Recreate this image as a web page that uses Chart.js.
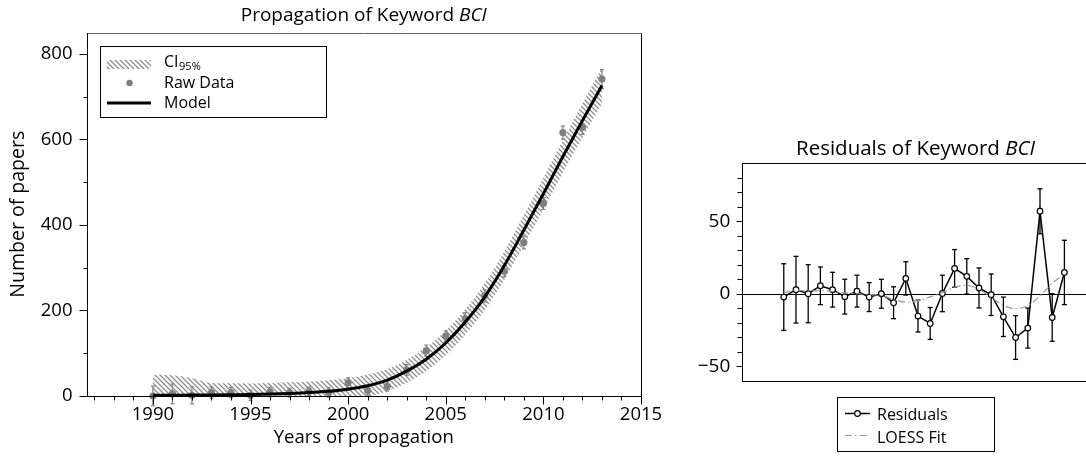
<!DOCTYPE html>
<html>
<head>
<meta charset="utf-8">
<title>Propagation of Keyword BCI</title>
<script src="https://cdn.jsdelivr.net/npm/chart.js@4.4.1/dist/chart.umd.min.js"></script>
<style>
  html, body { margin: 0; padding: 0; background: #fff; overflow: hidden; width: 1086px; height: 457px; }
  #leftWrap  { position: absolute; left: 0;     top: 0; width: 680px; height: 457px; }
  #rightWrap { position: absolute; left: 680px; top: 0; width: 420px; height: 457px; }
  canvas { display: block; }
</style>
</head>
<body>
<div id="leftWrap"><canvas id="growth" width="680" height="457"></canvas></div>
<div id="rightWrap"><canvas id="resid" width="420" height="457"></canvas></div>
<script>
// ---- data ----
const years = [1990, 1991, 1992, 1993, 1994, 1995, 1996, 1997, 1998, 1999, 2000, 2001,
               2002, 2003, 2004, 2005, 2006, 2007, 2008, 2009, 2010, 2011, 2012, 2013];
const rawCounts = [0, 5, 1.5, 8, 8, 1.5, 9.5, 8, 11, 8.5, 31, 13,
                   22.6, 61, 106, 140, 181, 234, 292, 359, 450, 616, 628, 741];
const stdErrors = [23, 23, 20, 13, 12, 12, 11, 10, 10, 11, 11.5, 11,
                   11, 12.6, 13, 12.2, 13.8, 14.3, 13.6, 15.1, 13.8, 15.5, 16.4, 22.2];
const modelCounts = [1.5, 1.8, 2.1, 2.5, 3, 3.5, 4.5, 6, 8, 11, 16, 24,
                     37, 58, 86, 124, 173, 232, 305, 388, 473, 560, 644, 726];
const ciUpper = [49.5, 48.8, 42.1, 30.5, 30, 29.5, 30.5, 32, 34, 37, 42, 50,
                 63, 85, 114, 153, 203, 263, 338, 423, 510, 598, 684, 768];
const ciLower = [-46.5, -45.2, -37.9, -25.5, -24, -22.5, -21.5, -20, -18, -15, -10, -2,
                 11, 31, 58, 95, 143, 201, 272, 353, 436, 522, 604, 684];
const residuals = [-2.3, 2.8, 0, 5.5, 2.8, -2, 1.8, -2.3, 0, -6.2, 10.6, -15.4,
                   -20.5, 0.2, 17.5, 12, 4, -0.7, -15.9, -30.2, -23.7, 56.9, -16.4, 14.7];
const loessFit = [0.5, 2.5, 1.8, 2.2, 1.5, 0.6, 0, -0.5, -1.2, -4, -5.8, -4.8,
                  -2.2, 0.7, 4.5, 5.8, 3, -2.5, -8, -10.2, -8.3, -1.5, 7.2, 13.5];

const yearTicks = [1990, 1995, 2000, 2005, 2010, 2015];
const countTicks = [0, 200, 400, 600, 800];
const residTicks = [-50, 0, 50];
const yearRange = [1986.6, 2015];

// ---- styling helpers ----
const FONT = "'Open Sans', 'Noto Sans', sans-serif";
const GREY = '#808080';

function makeHatch(ctx) {
  const s = 5;
  const tile = document.createElement('canvas');
  tile.width = s; tile.height = s;
  const g = tile.getContext('2d');
  g.strokeStyle = '#8e8e8e';
  g.lineWidth = 1.3;
  g.beginPath();
  g.moveTo(-s, -s); g.lineTo(2 * s, 2 * s);
  g.moveTo(-s, 0);  g.lineTo(s, 2 * s);
  g.moveTo(0, -s);  g.lineTo(2 * s, s);
  g.stroke();
  return ctx.createPattern(tile, 'repeat');
}

function seg(ctx, x1, y1, x2, y2) {
  ctx.beginPath(); ctx.moveTo(x1, y1); ctx.lineTo(x2, y2); ctx.stroke();
}
const snap = v => Math.round(v) + 0.5;

// text with an italic tail, centred on cx
function mixedTitle(ctx, plain, italic, cx, baseY, size) {
  ctx.save();
  ctx.fillStyle = '#000';
  ctx.textBaseline = 'alphabetic';
  ctx.textAlign = 'left';
  ctx.font = `${size}px ${FONT}`;
  const w1 = ctx.measureText(plain).width;
  ctx.font = `italic ${size}px ${FONT}`;
  const w2 = ctx.measureText(italic).width;
  const x0 = cx - (w1 + w2) / 2;
  ctx.font = `${size}px ${FONT}`;
  ctx.fillText(plain, x0, baseY);
  ctx.font = `italic ${size}px ${FONT}`;
  ctx.fillText(italic, x0 + w1, baseY);
  ctx.restore();
}

// vertical error bars drawn under a dataset that carries errorValues
const errorBarPlugin = {
  id: 'errorBars',
  beforeDatasetDraw(chart, args) {
    const ds = chart.data.datasets[args.index];
    if (!ds.errorValues) return;
    const ctx = chart.ctx, ys = chart.scales.y;
    ctx.save();
    ctx.strokeStyle = ds.errorColor;
    ctx.lineWidth = ds.errorWidth;
    args.meta.data.forEach((pt, i) => {
      const v = ds.data[i].y, e = ds.errorValues[i];
      const top = ys.getPixelForValue(v + e), bot = ys.getPixelForValue(v - e);
      const x = pt.x, c = ds.errorCap;
      seg(ctx, x, top, x, bot);
      seg(ctx, x - c, top, x + c, top);
      seg(ctx, x - c, bot, x + c, bot);
    });
    ctx.restore();
  }
};

// nudge layout padding until the plot area sits where wanted
function placeArea(chart, target) {
  for (let k = 0; k < 3; k++) {
    const a = chart.chartArea, p = chart.options.layout.padding;
    p.left += target.left - a.left;
    p.top += target.top - a.top;
    p.right += a.right - target.right;
    p.bottom += a.bottom - target.bottom;
    chart.update('none');
  }
}

function buildCharts() {
  Chart.defaults.font.family = FONT;
  Chart.defaults.color = '#000';

  // ---------- growth curve ----------
  const gCanvas = document.getElementById('growth');
  const gctx = gCanvas.getContext('2d');
  const hatch = makeHatch(gctx);
  const pts = arr => years.map((yr, i) => ({ x: yr, y: arr[i] }));

  const growthDeco = {
    id: 'growthDeco',
    afterDraw(chart) {
      const ctx = chart.ctx, a = chart.chartArea;
      const xs = chart.scales.x, ys = chart.scales.y;
      const L = snap(a.left), R = snap(a.right), T = snap(a.top), B = snap(a.bottom);
      ctx.save();
      ctx.lineWidth = 1;
      ctx.strokeStyle = '#666';
      seg(ctx, L, T, R, T);
      ctx.strokeStyle = '#000';
      seg(ctx, R, T, R, B);
      seg(ctx, L, T - 0.5, L, B + 0.5);
      seg(ctx, L - 0.5, B, R + 0.5, B);
      // year ticks
      for (let yr = 1987; yr <= 2015; yr++) {
        const px = snap(xs.getPixelForValue(yr));
        seg(ctx, px, B, px, B + (yr % 5 === 0 ? 8 : 4));
      }
      // count ticks
      for (let v = 0; v <= 800; v += 100) {
        const py = snap(ys.getPixelForValue(v));
        seg(ctx, L, py, L - (v % 200 === 0 ? 8 : 4), py);
      }

      // legend
      ctx.fillStyle = '#fff';
      ctx.fillRect(100, 46, 227, 71);
      ctx.strokeRect(100.5, 46.5, 226, 71);
      ctx.fillStyle = hatch;
      ctx.fillRect(107, 60, 44, 9);
      ctx.fillStyle = GREY;
      ctx.beginPath(); ctx.arc(129.5, 83, 3.2, 0, Math.PI * 2); ctx.fill();
      ctx.strokeStyle = '#000'; ctx.lineWidth = 3;
      seg(ctx, 107, 103, 151, 103);
      ctx.fillStyle = '#000';
      ctx.textBaseline = 'alphabetic';
      ctx.textAlign = 'left';
      ctx.font = `16px ${FONT}`;
      ctx.fillText('CI', 164, 67);
      const ciW = ctx.measureText('CI').width;
      ctx.font = `11px ${FONT}`;
      ctx.fillText('95%', 164 + ciW + 0.5, 69.5);
      ctx.font = `16px ${FONT}`;
      ctx.fillText('Raw Data', 164, 88);
      ctx.fillText('Model', 164, 108);

      // titles
      const cx = (a.left + a.right) / 2;
      mixedTitle(ctx, 'Propagation of Keyword ', 'BCI', cx, 21, 19);
      ctx.font = `18.5px ${FONT}`;
      ctx.textAlign = 'center';
      ctx.fillText('Years of propagation', cx, 443);
      ctx.font = `19.5px ${FONT}`;
      ctx.translate(24, (a.top + a.bottom) / 2);
      ctx.rotate(-Math.PI / 2);
      ctx.fillText('Number of papers', 0, 0);
      ctx.restore();
    }
  };

  const growth = new Chart(gCanvas, {
    type: 'line',
    data: {
      datasets: [
        { label: 'CI lower', data: pts(ciLower), borderWidth: 0, pointRadius: 0,
          cubicInterpolationMode: 'monotone', fill: false, order: 4 },
        { label: 'CI95%', data: pts(ciUpper), borderWidth: 0, pointRadius: 0,
          cubicInterpolationMode: 'monotone', fill: 0, backgroundColor: hatch, order: 3 },
        { label: 'Raw Data', data: pts(rawCounts), showLine: false, pointRadius: 3.6,
          pointBackgroundColor: GREY, pointBorderWidth: 0, clip: false,
          errorValues: stdErrors, errorColor: GREY, errorWidth: 1.2, errorCap: 2, order: 2 },
        { label: 'Model', data: pts(modelCounts), borderColor: '#000', borderWidth: 3,
          pointRadius: 0, cubicInterpolationMode: 'monotone', fill: false, order: 1 }
      ]
    },
    options: {
      responsive: false,
      devicePixelRatio: 1,
      animation: false,
      layout: { padding: { top: 32, right: 39, left: 0, bottom: 0 } },
      plugins: { legend: { display: false }, tooltip: { enabled: false } },
      scales: {
        x: {
          type: 'linear', min: yearRange[0], max: yearRange[1],
          grid: { display: false, drawTicks: false }, border: { display: false },
          afterBuildTicks: s => { s.ticks = yearTicks.map(v => ({ value: v })); },
          afterFit: s => { s.height = 61; },
          ticks: { font: { size: 18.5 }, color: '#000', padding: 8, autoSkip: false,
                   maxRotation: 0, callback: v => String(v) }
        },
        y: {
          type: 'linear', min: 0, max: 850,
          grid: { display: false, drawTicks: false }, border: { display: false },
          afterBuildTicks: s => { s.ticks = countTicks.map(v => ({ value: v })); },
          afterFit: s => { s.width = 86.5; },
          ticks: { font: { size: 18.5 }, color: '#000', padding: 14, callback: v => String(v) }
        }
      }
    },
    plugins: [errorBarPlugin, growthDeco]
  });
  placeArea(growth, { left: 86.5, right: 641, top: 32.5, bottom: 396 });

  // ---------- residuals ----------
  const rCanvas = document.getElementById('resid');
  const rpts = arr => years.map((yr, i) => ({ x: yr, y: arr[i] }));
  const loessDash = [7, 3, 1.5, 3];

  const residDeco = {
    id: 'residDeco',
    beforeDatasetsDraw(chart) {
      const ctx = chart.ctx, a = chart.chartArea;
      const y0 = snap(chart.scales.y.getPixelForValue(0));
      ctx.save();
      ctx.strokeStyle = '#000'; ctx.lineWidth = 1;
      seg(ctx, a.left, y0, a.right, y0);
      ctx.restore();
    },
    afterDraw(chart) {
      const ctx = chart.ctx, a = chart.chartArea, ys = chart.scales.y;
      const L = snap(a.left), R = snap(a.right), T = snap(a.top), B = snap(a.bottom);
      ctx.save();
      ctx.strokeStyle = '#000'; ctx.lineWidth = 1;
      seg(ctx, L - 0.5, T, R + 0.5, T);
      seg(ctx, L - 0.5, B, R + 0.5, B);
      seg(ctx, L, T, L, B);
      seg(ctx, R, T, R, B);
      for (let v = -50; v <= 80; v += 10) {
        const py = snap(ys.getPixelForValue(v));
        seg(ctx, L, py, L - (v % 50 === 0 ? 6 : 5), py);
      }

      // legend
      ctx.fillStyle = '#fff';
      ctx.fillRect(157, 397, 157, 54);
      ctx.strokeRect(157.5, 397.5, 157, 54);
      ctx.lineWidth = 1.5;
      seg(ctx, 165, 413.5, 190, 413.5);
      ctx.fillStyle = '#fff'; ctx.lineWidth = 1.2;
      ctx.beginPath(); ctx.arc(177.5, 413.5, 2.8, 0, Math.PI * 2); ctx.fill(); ctx.stroke();
      ctx.strokeStyle = '#9a9a9a'; ctx.lineWidth = 1.2;
      ctx.setLineDash(loessDash);
      seg(ctx, 165, 435.5, 190, 435.5);
      ctx.setLineDash([]);
      ctx.fillStyle = '#000';
      ctx.textAlign = 'left'; ctx.textBaseline = 'alphabetic';
      ctx.font = `16px ${FONT}`;
      ctx.fillText('Residuals', 197, 419.5);
      ctx.fillText('LOESS Fit', 197, 442.5);

      mixedTitle(ctx, 'Residuals of Keyword ', 'BCI', (a.left + a.right) / 2, 155, 20.5);
      ctx.restore();
    }
  };

  const resid = new Chart(rCanvas, {
    type: 'line',
    data: {
      datasets: [
        { label: 'LOESS Fit', data: rpts(loessFit), borderColor: '#9a9a9a', borderWidth: 1.2,
          borderDash: loessDash, pointRadius: 0, cubicInterpolationMode: 'monotone',
          fill: false, order: 0 },
        { label: 'Residuals', data: rpts(residuals), borderColor: '#000', borderWidth: 1.5,
          tension: 0, pointRadius: 2.8, pointBackgroundColor: '#fff', pointBorderColor: '#000',
          pointBorderWidth: 1.2, fill: false, clip: false,
          errorValues: stdErrors, errorColor: '#000', errorWidth: 1.3, errorCap: 2.5, order: 1 }
      ]
    },
    options: {
      responsive: false,
      devicePixelRatio: 1,
      animation: false,
      layout: { padding: { top: 163, right: 11, left: 0, bottom: 76 } },
      plugins: { legend: { display: false }, tooltip: { enabled: false } },
      scales: {
        x: { type: 'linear', min: yearRange[0], max: yearRange[1], display: false },
        y: {
          type: 'linear', min: -60, max: 90,
          grid: { display: false, drawTicks: false }, border: { display: false },
          afterBuildTicks: s => { s.ticks = residTicks.map(v => ({ value: v })); },
          afterFit: s => { s.width = 62; },
          ticks: { font: { size: 19 }, color: '#000', padding: 12,
                   callback: v => (v < 0 ? '\u2212' + Math.abs(v) : String(v)) }
        }
      }
    },
    plugins: [errorBarPlugin, residDeco]
  });
  placeArea(resid, { left: 62.3, right: 408.8, top: 163.3, bottom: 380.7 });
}

Promise.all([
  document.fonts.load(`16px ${FONT}`),
  document.fonts.load(`italic 18px ${FONT}`)
]).catch(() => {}).then(buildCharts);
</script>
</body>
</html>
